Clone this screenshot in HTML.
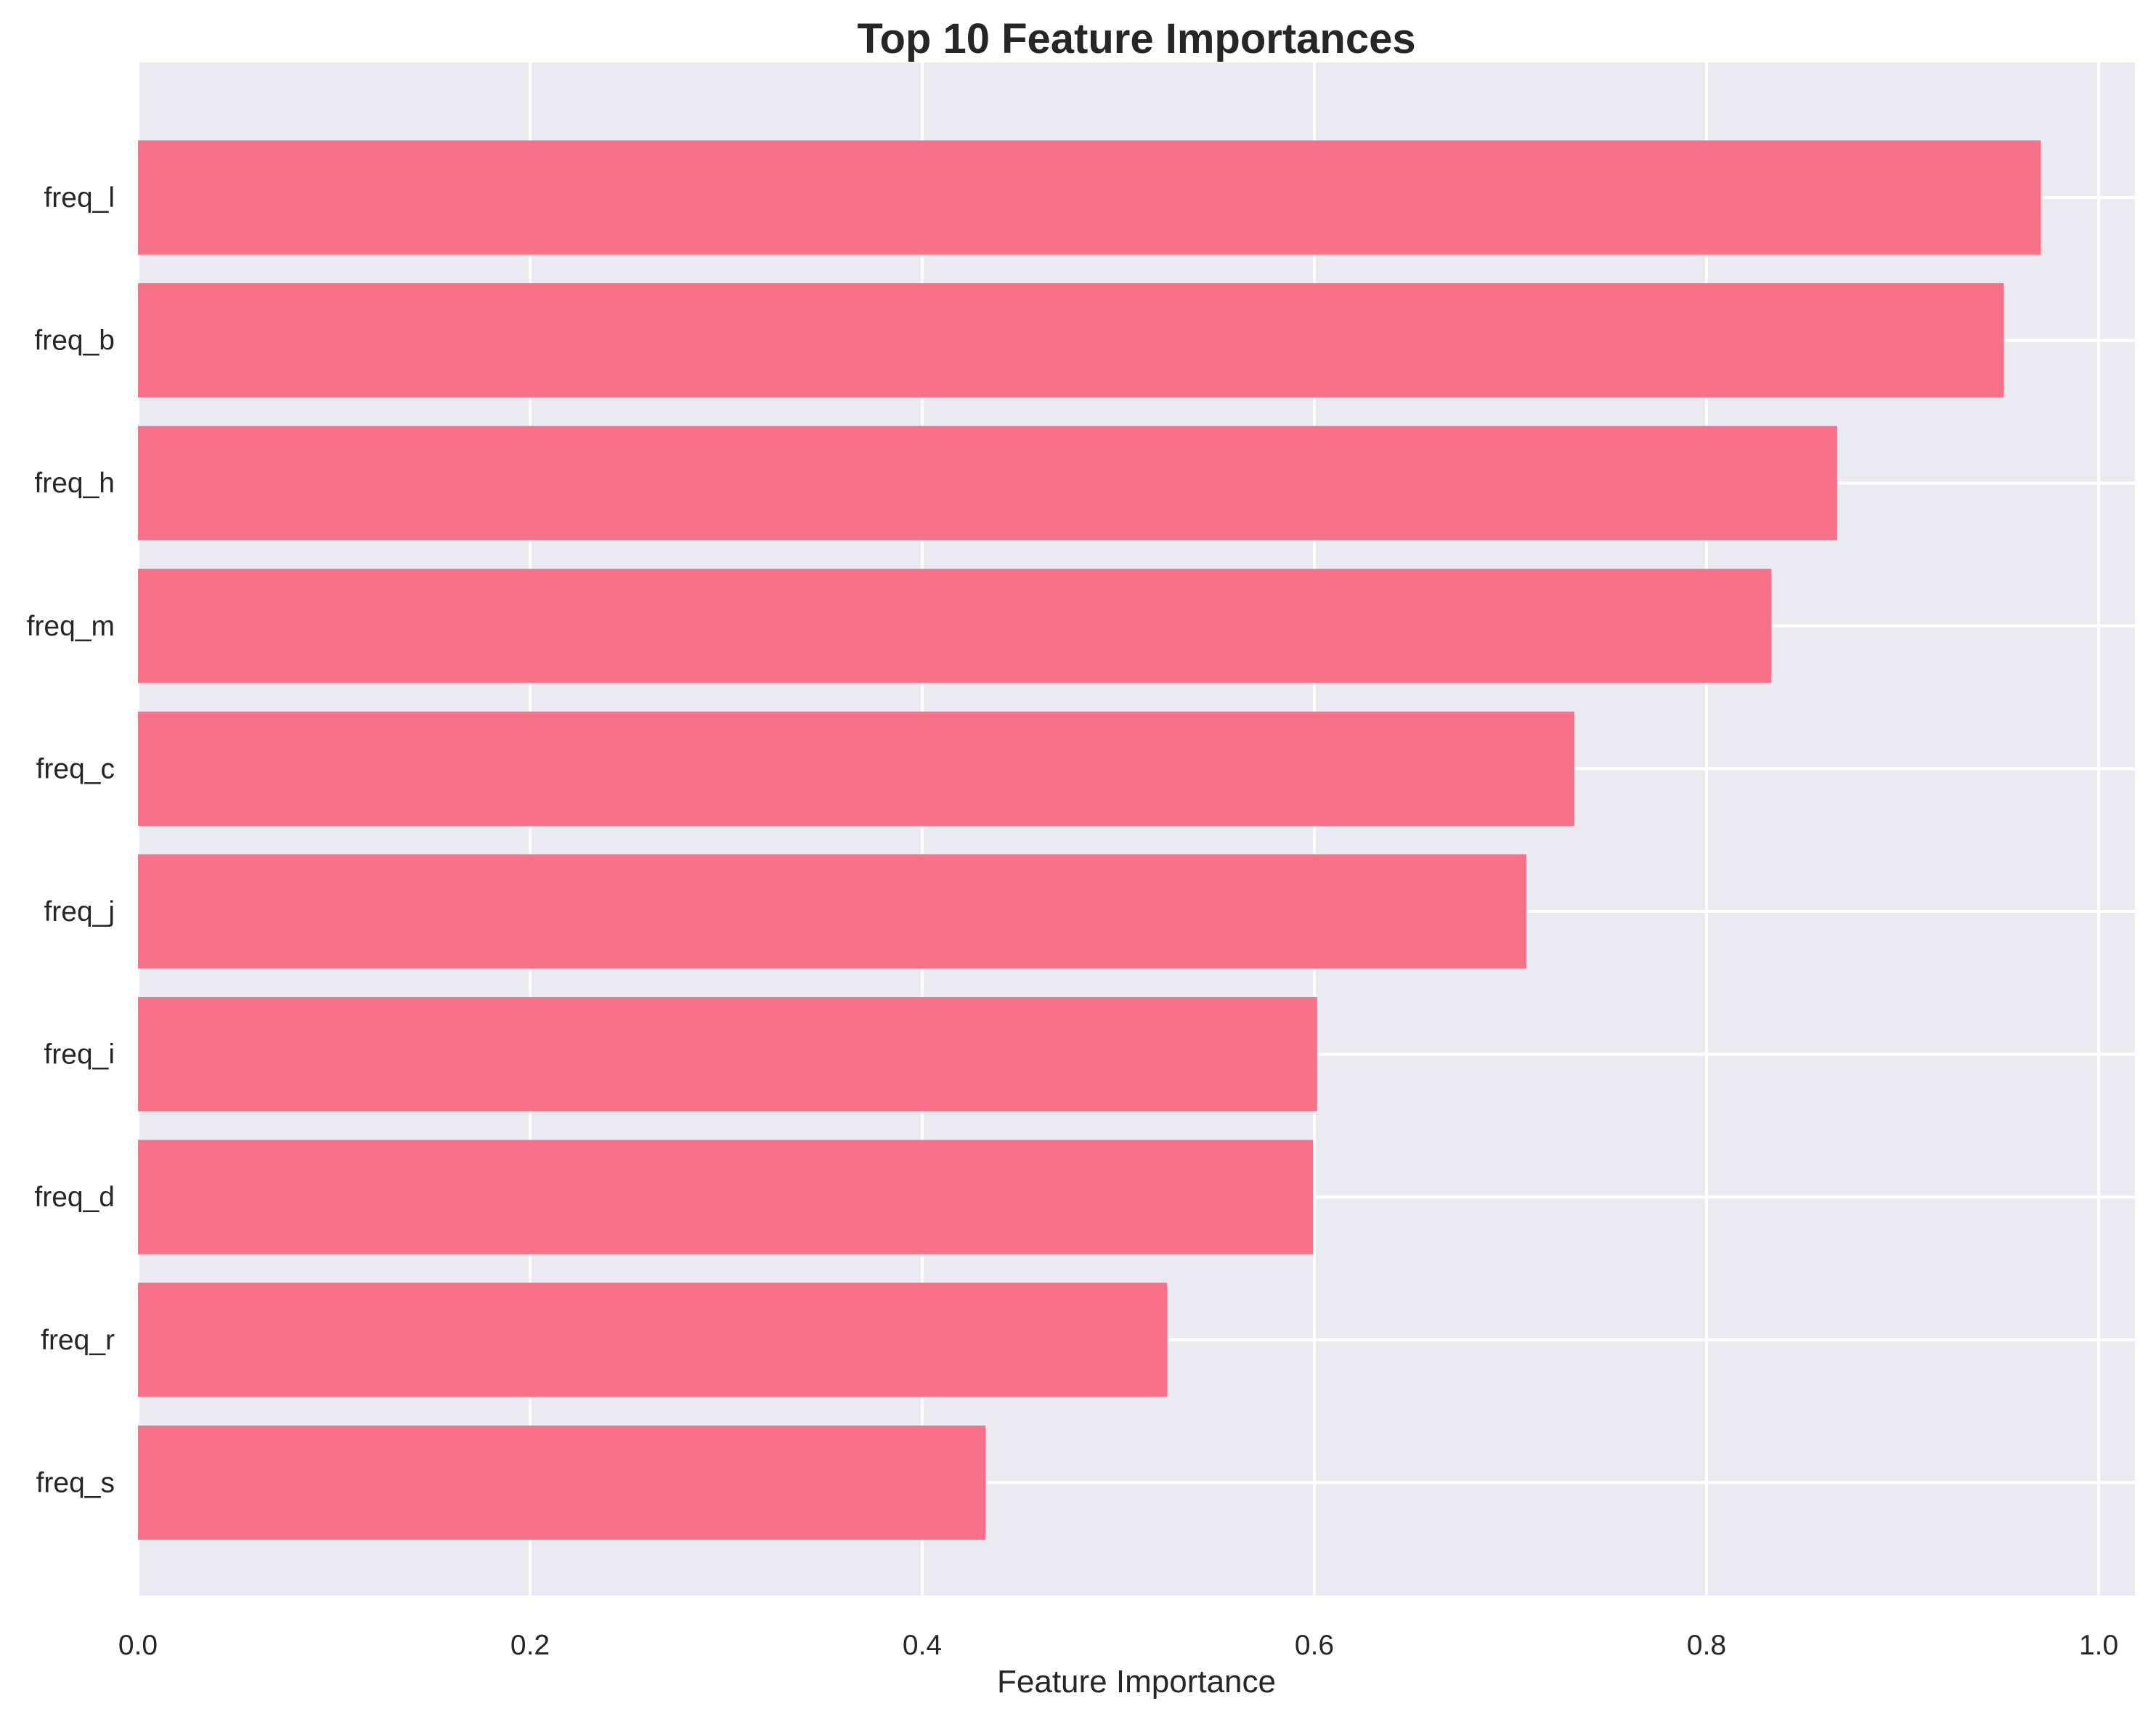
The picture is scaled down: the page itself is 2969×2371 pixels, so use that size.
<!DOCTYPE html>
<html><head><meta charset="utf-8"><style>
html,body{margin:0;padding:0;background:#fff;}
svg{display:block;font-family:"Liberation Sans",Arial,sans-serif;}
</style></head><body>
<svg id="chart" width="2969" height="2371" viewBox="0 0 2969 2371">
<rect x="0" y="0" width="2969" height="2371" fill="#fff"/>
<text x="1565" y="73" text-anchor="middle" font-size="58" font-weight="bold" fill="#262626">Top 10 Feature Importances</text>
<g id="plot"></g>
<text x="1565" y="2330" text-anchor="middle" font-size="44" fill="#262626">Feature Importance</text>
</svg>
<script>
const categories = ["freq_l","freq_b","freq_h","freq_m","freq_c","freq_j","freq_i","freq_d","freq_r","freq_s"];
const values = [0.9705,0.9516,0.8666,0.8330,0.7326,0.7081,0.6014,0.5993,0.5249,0.4323];
const xTicks = [0,0.2,0.4,0.6,0.8,1.0];
const xTickLabels = ["0.0","0.2","0.4","0.6","0.8","1.0"];

const L=190, R=2940, T=86, B=2197;
const xMax=1.0185;
const xs = v => L + v/xMax*(R-L);
const step = 196.6, firstCenter = 272;
const ys = i => firstCenter + i*step;
const bh = step*0.8;
const NS="http://www.w3.org/2000/svg";
const g=document.getElementById('plot');
function mk(t,a){const e=document.createElementNS(NS,t);for(const k in a)e.setAttribute(k,a[k]);g.appendChild(e);return e;}

const bg=mk('rect',{x:L,y:T,width:R-L,height:B-T,fill:'#eaeaf2'});



xTicks.forEach((t,i)=>{
  const x=xs(t);
  const ln=mk('line',{x1:x,x2:x,y1:T,y2:B,stroke:'#fff','stroke-width':4});
  
  
  const tx=mk('text',{x:x,y:2278,'text-anchor':'middle','font-size':39,fill:'#262626'});
  tx.textContent=xTickLabels[i];
  
  
});
categories.forEach((c,i)=>{
  const y=ys(i);
  const ln=mk('line',{x1:L,x2:R,y1:y,y2:y,stroke:'#fff','stroke-width':4});
  
  
});
categories.forEach((c,i)=>{
  const y=ys(i);
  const r=mk('rect',{x:xs(0),y:y-bh/2,width:xs(values[i])-xs(0),height:bh,fill:'#f77189'});
  
  
  const tx=mk('text',{x:158,y:y+13,'text-anchor':'end','font-size':39,fill:'#262626'});
  tx.textContent=c;
  
  
});
</script>
</body></html>
